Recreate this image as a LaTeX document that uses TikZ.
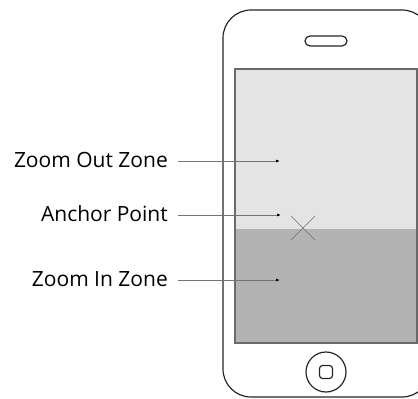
\documentclass[tikz,border=0pt]{standalone}
\usepackage{fontspec}
\setmainfont{Open Sans}
\usetikzlibrary{arrows.meta,calc}

\definecolor{outzone}{HTML}{E4E4E4}
\definecolor{inzone}{HTML}{B3B3B3}
\definecolor{rim}{HTML}{6A6A6A}

\begin{document}
\begin{tikzpicture}[x=1pt, y=-1pt,
    label/.style={anchor=east, inner sep=0pt, font=\fontsize{21}{24}\selectfont},
    pointer/.style={draw=black!55, line width=0.7pt, shorten <=10pt, -{Latex[length=4pt,width=3pt,black]}},
    body/.style={draw=black!85, line width=1.2pt}]

\useasboundingbox (0,0) rectangle (418,399);
\clip (0,0) rectangle (418,399);

% phone body, speaker and home button
\draw[body, rounded corners=28pt] (223,10) rectangle (430,397);
\draw[body, rounded corners=5pt] (305,36) rectangle (347,46);
\node[body, circle, minimum size=40pt, inner sep=0pt] (home) at (326,372) {};
\draw[body, rounded corners=3pt] (319.5,365.5) rectangle (332.5,378.5);

% screen with the two zones
\fill[outzone] (235,69) rectangle (417,229);
\fill[inzone] (235,229) rectangle (417,343);
\draw[rim, line width=1.2pt] (235,69) rectangle (417,343);

% anchor mark
\coordinate (anchor) at (303,228);
\draw[black!55, line width=0.6pt] ($(anchor)+(-12,-12)$) -- ($(anchor)+(12,12)$);
\draw[black!55, line width=0.6pt] ($(anchor)+(-12,12)$) -- ($(anchor)+(12,-12)$);

\coordinate (outpt) at (280,161);
\coordinate (anchorpt) at (281,215);
\coordinate (inpt) at (280,280);

\node[label] (outlbl) at (168,160) {Zoom Out Zone};
\node[label] (anchorlbl) at (168,214) {Anchor Point};
\node[label] (inlbl) at (168,279) {Zoom In Zone};

\draw[pointer] (outlbl.east |- outpt) -- (outpt);
\draw[pointer] (anchorlbl.east |- anchorpt) -- (anchorpt);
\draw[pointer] (inlbl.east |- inpt) -- (inpt);

\end{tikzpicture}
\end{document}
